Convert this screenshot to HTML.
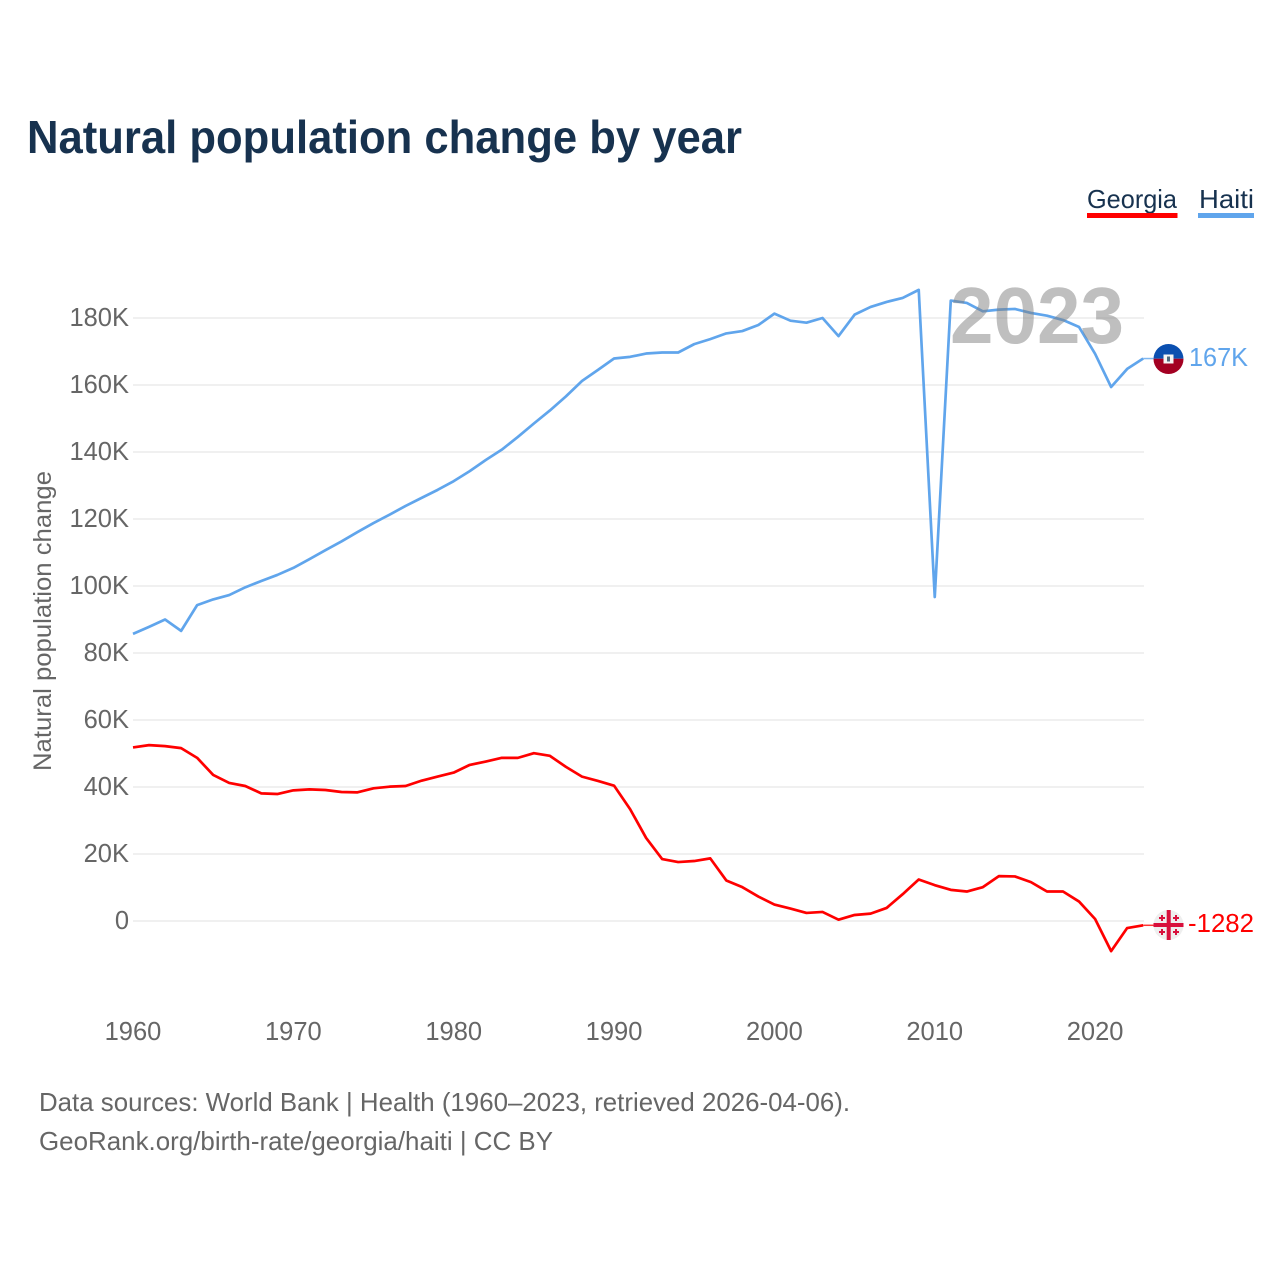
<!DOCTYPE html>
<html lang="en">
<head>
<meta charset="utf-8">
<title>Natural population change by year</title>
<style>
html,body{margin:0;padding:0;background:#fff;}
svg{display:block;font-family:"Liberation Sans",sans-serif;}
</style>
</head>
<body>
<svg id="chart" width="1280" height="1280" viewBox="0 0 1280 1280" xmlns="http://www.w3.org/2000/svg">
  <rect width="1280" height="1280" fill="#ffffff"/>
  <text x="27" y="153" font-size="46" font-weight="700" fill="#17324f" textLength="715" lengthAdjust="spacingAndGlyphs">Natural population change by year</text>

  <g>
    <g>
      <text x="1087" y="208" font-size="26" fill="#17324f" textLength="90" lengthAdjust="spacingAndGlyphs">Georgia</text>
      <rect x="1087" y="213" width="90.500" height="5" fill="#ff0000"/>
    </g>
    <g>
      <text x="1199" y="208" font-size="26" fill="#17324f" textLength="55" lengthAdjust="spacingAndGlyphs">Haiti</text>
      <rect x="1198" y="213" width="56" height="5" fill="#60a5ec"/>
    </g>
  </g>

  <text transform="translate(51,621) rotate(-90)" text-anchor="middle" font-size="25" fill="#666666" textLength="300" lengthAdjust="spacingAndGlyphs">Natural population change</text>

  <g id="grid"></g>
  <g id="yticks"></g>
  <g id="xticks"></g>
  <g id="series"></g>

  <text x="950" y="343" font-size="80" font-weight="700" fill="#808080" opacity="0.5" textLength="174" lengthAdjust="spacingAndGlyphs">2023</text>

  <g id="flags">
    <g>
      <clipPath id="haiti-clip"><circle cx="1168.500" cy="359" r="15"/></clipPath>
      <g clip-path="url(#haiti-clip)">
        <rect x="1153" y="343" width="31" height="15.700" fill="#0a4fb0"/>
        <rect x="1153" y="358.700" width="31" height="16" fill="#a30022"/>
        <rect x="1163.500" y="354.500" width="10" height="9" fill="#f4f4f4"/>
        <rect x="1167" y="356.500" width="3" height="5" fill="#4a6a80"/>
      </g>
    </g>
    <g>
      <circle cx="1168.500" cy="925" r="15" fill="#eeeeee"/>
      <g fill="#d8103c">
        <rect x="1166.700" y="910" width="4" height="30"/>
        <rect x="1153.500" y="923" width="30" height="4"/>
        <path d="M1161 915h2v2h2v2h-2v2h-2v-2h-2v-2h2zM1175 915h2v2h2v2h-2v2h-2v-2h-2v-2h2zM1161 929h2v2h2v2h-2v2h-2v-2h-2v-2h2zM1175 929h2v2h2v2h-2v2h-2v-2h-2v-2h2z"/>
      </g>
    </g>
  </g>

  <text id="label-haiti" x="1189" y="366" font-size="26" fill="#60a5ec" textLength="59" lengthAdjust="spacingAndGlyphs">167K</text>
  <text id="label-georgia" x="1188" y="932" font-size="26" fill="#ff0000" textLength="66" lengthAdjust="spacingAndGlyphs">-1282</text>

  <g>
    <text x="39" y="1111" font-size="26" fill="#666666" textLength="811" lengthAdjust="spacingAndGlyphs">Data sources: World Bank | Health (1960–2023, retrieved 2026-04-06).</text>
    <text x="39" y="1150" font-size="26" fill="#666666" textLength="514" lengthAdjust="spacingAndGlyphs">GeoRank.org/birth-rate/georgia/haiti | CC BY</text>
  </g>
</svg>
<script>
const startYear = 1960;
const xTickYears = [1960, 1970, 1980, 1990, 2000, 2010, 2020];
const yTickValues = [0, 20, 40, 60, 80, 100, 120, 140, 160, 180];
const yTickLabels = ['0', '20K', '40K', '60K', '80K', '100K', '120K', '140K', '160K', '180K'];
const haitiValues = [85.7, 87.8, 90, 86.6, 94.3, 96, 97.3, 99.6, 101.5, 103.3,
  105.4, 108, 110.7, 113.3, 116.1, 118.8, 121.3, 123.9, 126.3, 128.7,
  131.3, 134.3, 137.6, 140.7, 144.5, 148.5, 152.4, 156.6, 161.2, 164.5,
  167.9, 168.4, 169.4, 169.7, 169.7, 172.2, 173.7, 175.4, 176.1, 177.9,
  181.3, 179.2, 178.6, 180, 174.6, 181, 183.3, 184.8, 186, 188.4,
  96.7, 185.2, 184.5, 182, 182.5, 182.7, 181.5, 180.7, 179.4, 177.3,
  169.3, 159.4, 164.8, 167.9];
const georgiaValues = [51.8, 52.5, 52.2, 51.6, 48.7, 43.6, 41.2, 40.3, 38.1, 37.9,
  39, 39.3, 39.1, 38.5, 38.4, 39.6, 40.1, 40.3, 41.9, 43.1,
  44.3, 46.6, 47.6, 48.7, 48.7, 50.1, 49.3, 46, 43.1, 41.8,
  40.4, 33.4, 24.8, 18.5, 17.6, 17.9, 18.7, 12.1, 10.1, 7.3,
  4.9, 3.7, 2.4, 2.7, 0.4, 1.8, 2.2, 3.9, 8, 12.4,
  10.7, 9.3, 8.8, 10.1, 13.4, 13.3, 11.6, 8.8, 8.8, 5.8,
  0.6, -9, -2.1, -1.282];

const NS = 'http://www.w3.org/2000/svg';
const xScale = function (year) { return 133 + (year - 1960) * 16.035; };
const yScale = function (value) { return 921 - value * 3.35; };
const plotRight = 1144;
const flagEdgeX = 1153.5;

function mk(tag, parent, attrs, text) {
  const el = document.createElementNS(NS, tag);
  Object.keys(attrs).forEach(function (k) { el.setAttribute(k, attrs[k]); });
  if (text !== undefined) el.textContent = text;
  parent.appendChild(el);
  return el;
}

const grid = document.getElementById('grid');
const yticks = document.getElementById('yticks');
const xticks = document.getElementById('xticks');
const series = document.getElementById('series');

yTickValues.forEach(function (v, i) {
  const line = mk('line', grid, { x1: 133, x2: plotRight, y1: yScale(v), y2: yScale(v), stroke: '#ececec', 'stroke-width': 1.500 });
  
  
  const label = mk('text', yticks, { x: 129, y: yScale(v) + 8, 'text-anchor': 'end', 'font-size': 25.500, fill: '#666666' }, yTickLabels[i]);
  
  
});

xTickYears.forEach(function (yr) {
  const label = mk('text', xticks, { x: xScale(yr), y: 1040, 'text-anchor': 'middle', 'font-size': 25.500, fill: '#666666' }, String(yr));
  
  
});

function linePoints(values) {
  return values.map(function (v, i) {
    return xScale(startYear + i).toFixed(2) + ',' + yScale(v).toFixed(2);
  }).join(' ');
}

const georgiaLine = mk('polyline', series, { points: linePoints(georgiaValues), fill: 'none', stroke: '#ff0000', 'stroke-width': 2.700, 'stroke-linejoin': 'round' });



const haitiLine = mk('polyline', series, { points: linePoints(haitiValues), fill: 'none', stroke: '#60a5ec', 'stroke-width': 2.700, 'stroke-linejoin': 'round' });



const lastX = xScale(startYear + haitiValues.length - 1);
const haitiLast = yScale(haitiValues[haitiValues.length - 1]);
const georgiaLast = yScale(georgiaValues[georgiaValues.length - 1]);

const haitiConnector = mk('line', series, { x1: lastX, x2: flagEdgeX, y1: haitiLast, y2: haitiLast, stroke: '#60a5ec', 'stroke-width': 1.500, 'stroke-opacity': 0.8 });



const georgiaConnector = mk('line', series, { x1: lastX, x2: flagEdgeX, y1: georgiaLast, y2: georgiaLast, stroke: '#ff0000', 'stroke-width': 1.500, 'stroke-opacity': 0.8 });


</script>
</body>
</html>
